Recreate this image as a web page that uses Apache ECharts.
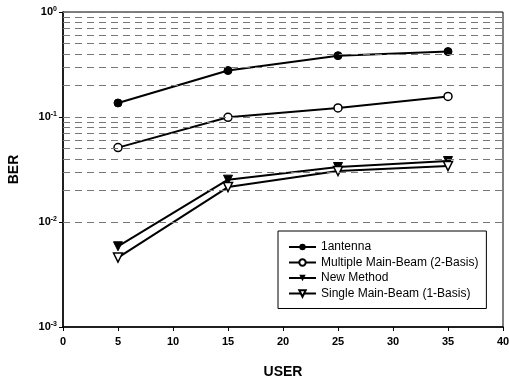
<!DOCTYPE html>
<html><head><meta charset="utf-8">
<script src="https://cdn.jsdelivr.net/npm/echarts@6/dist/echarts.min.js"></script>
<style>html,body{margin:0;padding:0;background:#fff}#c{width:509px;height:383px}</style>
</head><body><div id="c"></div>
<script>
const users = [5, 15, 25, 35];
const oneAntenna = [0.136, 0.277, 0.384, 0.42];
const multiMainBeam = [0.0511, 0.0993, 0.122, 0.157];
const newMethod = [0.00587, 0.0253, 0.0334, 0.0381];
const singleMainBeam = [0.00458, 0.0215, 0.0306, 0.0341];
const seriesNames = ['1antenna', 'Multiple Main-Beam (2-Basis)', 'New Method', 'Single Main-Beam (1-Basis)'];
const yExponents = [0, -1, -2, -3];
const xTicks = [0, 5, 10, 15, 20, 25, 30, 35, 40];

// gridline positions (2..10 within each decade)
const gridValues = [];
for (let d = -3; d < 0; d++) {
  for (let m = 2; m <= 10; m++) gridValues.push(m * Math.pow(10, d));
}
const FONT = 'Liberation Sans, Arial, sans-serif';
const pair = arr => users.map((u, i) => [u, arr[i]]);

const chart = echarts.init(document.getElementById('c'), null, {renderer: 'canvas'});
chart.setOption({
  animation: false,
  backgroundColor: '#fff',
  grid: {left: 63, right: 6, top: 12, bottom: 56, show: true, borderColor: '#000', borderWidth: 1,
         containLabel: false, outerBoundsMode: 'none'},
  xAxis: {
    type: 'value', min: 0, max: 40, interval: 5,
    name: 'USER', nameLocation: 'middle', nameGap: 38,
    nameTextStyle: {fontFamily: FONT, fontWeight: 'bold', fontSize: 14, color: '#000'},
    axisLine: {lineStyle: {color: '#000', width: 1.5}},
    axisTick: {show: true, inside: false, length: 4, lineStyle: {color: '#000'}},
    axisLabel: {fontFamily: FONT, fontWeight: 'bold', fontSize: 11, color: '#000', margin: 9},
    splitLine: {show: false}
  },
  yAxis: {
    type: 'log', logBase: 10, min: 0.001, max: 1,
    name: 'BER', nameLocation: 'middle', nameGap: 42, nameRotate: 90,
    nameTextStyle: {fontFamily: FONT, fontWeight: 'bold', fontSize: 14, color: '#000'},
    axisLine: {show: true, lineStyle: {color: '#000', width: 1.5}},
    axisTick: {show: true, length: 4, lineStyle: {color: '#000'}},
    axisLabel: {
      color: '#000', margin: 6,
      formatter: v => '{b|10}{s|' + Math.round(Math.log10(v)) + '}',
      rich: {
        b: {fontFamily: FONT, fontWeight: 'bold', fontSize: 11, color: '#000'},
        s: {fontFamily: FONT, fontWeight: 'bold', fontSize: 7, color: '#000', verticalAlign: 'top', padding: [0, 0, 6, 0]}
      }
    },
    splitLine: {show: false}
  },
  legend: {
    show: true, orient: 'vertical', left: 278, top: 231,
    backgroundColor: '#fff', borderColor: '#000', borderWidth: 1,
    padding: [9, 8, 8, 10], itemGap: 1.5, itemWidth: 27, itemHeight: 8,
    textStyle: {fontFamily: FONT, fontSize: 12, color: '#000', lineHeight: 14},
    data: seriesNames
  },
  series: [
    {
      name: '__grid', type: 'line', data: [], silent: true,
      markLine: {
        silent: true, symbol: 'none', label: {show: false},
        lineStyle: {color: '#777', type: [7, 5], width: 1},
        data: gridValues.map(v => ({yAxis: v}))
      }
    },
    {
      name: seriesNames[0], type: 'line', data: pair(oneAntenna),
      symbol: 'circle', symbolSize: 8,
      lineStyle: {color: '#000', width: 2}, itemStyle: {color: '#000', borderColor: '#000'}
    },
    {
      name: seriesNames[1], type: 'line', data: pair(multiMainBeam),
      symbol: 'circle', symbolSize: 8,
      lineStyle: {color: '#000', width: 2}, itemStyle: {color: '#fff', borderColor: '#000', borderWidth: 1.5}
    },
    {
      name: seriesNames[2], type: 'line', data: pair(newMethod),
      symbol: 'triangle', symbolRotate: 180, symbolSize: 9,
      lineStyle: {color: '#000', width: 2}, itemStyle: {color: '#000', borderColor: '#000'}
    },
    {
      name: seriesNames[3], type: 'line', data: pair(singleMainBeam),
      symbol: 'triangle', symbolRotate: 180, symbolSize: 9,
      lineStyle: {color: '#000', width: 2}, itemStyle: {color: '#fff', borderColor: '#000', borderWidth: 1.5}
    }
  ]
});
</script></body></html>
